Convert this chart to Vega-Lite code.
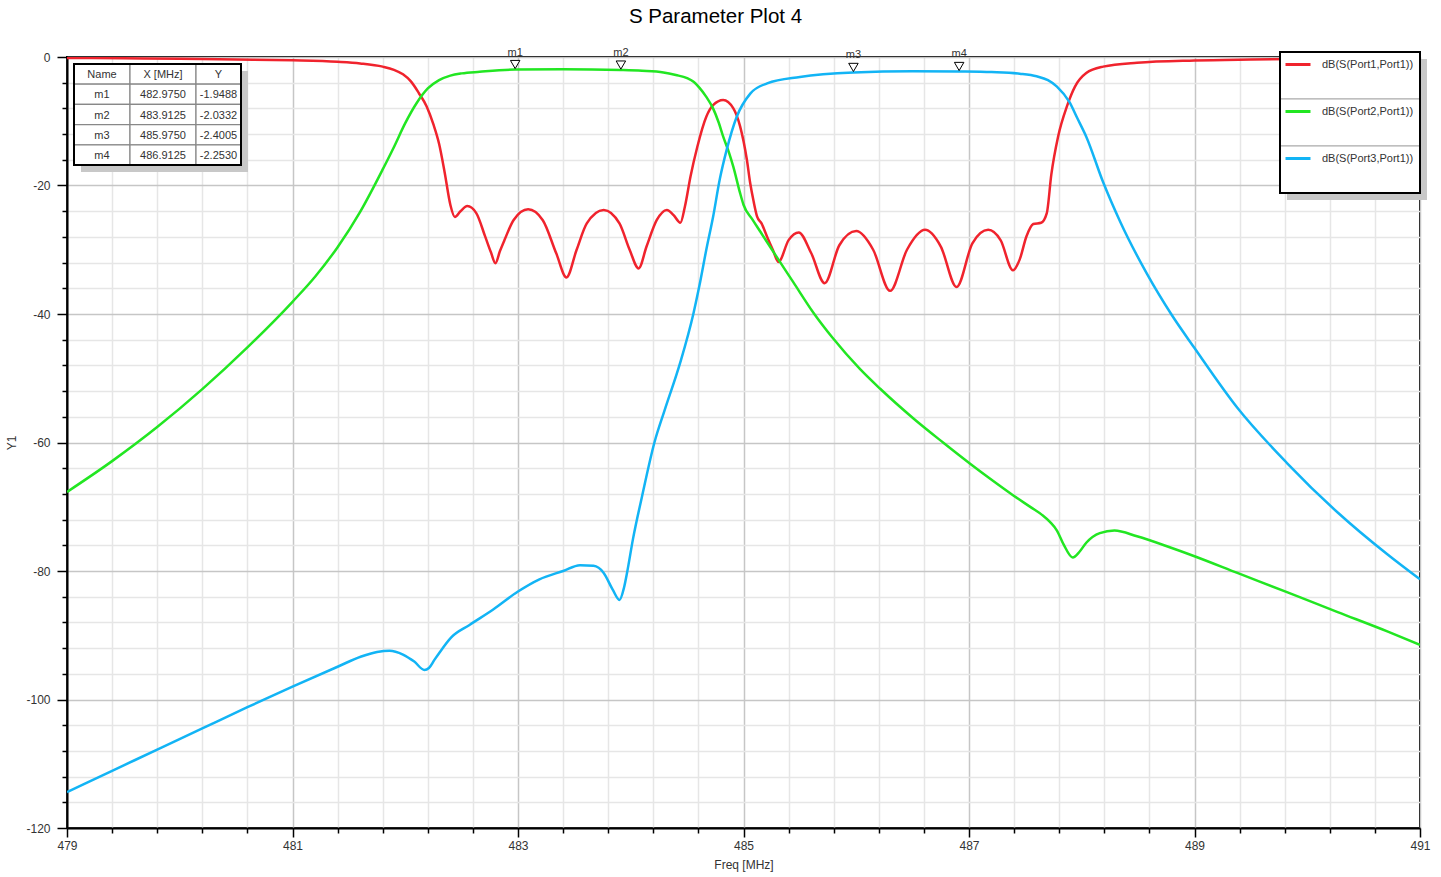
{
"$schema": "https://vega.github.io/schema/vega-lite/v6.json",
"width": 1353, "height": 771,
"autosize": {"type": "none"},
"padding": {"left": 67, "top": 57, "right": 21, "bottom": 49},
"background": "white",
"title": {"text": "S Parameter Plot 4", "font": "Liberation Sans", "fontSize": 20.5, "fontWeight": "normal", "color": "#000", "anchor": "middle", "frame": "group", "offset": 19, "dx": -28},
"config": {"view": {"stroke": "#000", "strokeWidth": 2}, "font": "Liberation Sans"},
"datasets": {
 "curves": [
  {"s":"dB(S(Port1,Port1))","f":479,"db":-0.15},{"s":"dB(S(Port1,Port1))","f":479.5,"db":-0.2},{"s":"dB(S(Port1,Port1))","f":480,"db":-0.28},{"s":"dB(S(Port1,Port1))","f":480.5,"db":-0.38},{"s":"dB(S(Port1,Port1))","f":481,"db":-0.52},{"s":"dB(S(Port1,Port1))","f":481.4,"db":-0.75},{"s":"dB(S(Port1,Port1))","f":481.6,"db":-1.0},{"s":"dB(S(Port1,Port1))","f":481.8,"db":-1.5},{"s":"dB(S(Port1,Port1))","f":481.9,"db":-2.0},{"s":"dB(S(Port1,Port1))","f":481.98,"db":-2.7},{"s":"dB(S(Port1,Port1))","f":482.05,"db":-3.8},{"s":"dB(S(Port1,Port1))","f":482.12,"db":-5.6},{"s":"dB(S(Port1,Port1))","f":482.19,"db":-7.7},{"s":"dB(S(Port1,Port1))","f":482.25,"db":-10.5},{"s":"dB(S(Port1,Port1))","f":482.3,"db":-13.5},{"s":"dB(S(Port1,Port1))","f":482.35,"db":-18.0},{"s":"dB(S(Port1,Port1))","f":482.4,"db":-23.0},{"s":"dB(S(Port1,Port1))","f":482.44,"db":-24.9},{"s":"dB(S(Port1,Port1))","f":482.49,"db":-24.0},{"s":"dB(S(Port1,Port1))","f":482.55,"db":-23.2},{"s":"dB(S(Port1,Port1))","f":482.63,"db":-24.3},{"s":"dB(S(Port1,Port1))","f":482.71,"db":-28.0},{"s":"dB(S(Port1,Port1))","f":482.76,"db":-30.4},{"s":"dB(S(Port1,Port1))","f":482.8,"db":-32.1},{"s":"dB(S(Port1,Port1))","f":482.84,"db":-30.2},{"s":"dB(S(Port1,Port1))","f":482.88,"db":-28.5},{"s":"dB(S(Port1,Port1))","f":482.96,"db":-25.4},{"s":"dB(S(Port1,Port1))","f":483.09,"db":-23.7},{"s":"dB(S(Port1,Port1))","f":483.22,"db":-25.4},{"s":"dB(S(Port1,Port1))","f":483.34,"db":-30.6},{"s":"dB(S(Port1,Port1))","f":483.43,"db":-34.3},{"s":"dB(S(Port1,Port1))","f":483.52,"db":-30.0},{"s":"dB(S(Port1,Port1))","f":483.61,"db":-25.9},{"s":"dB(S(Port1,Port1))","f":483.76,"db":-23.8},{"s":"dB(S(Port1,Port1))","f":483.9,"db":-25.9},{"s":"dB(S(Port1,Port1))","f":483.99,"db":-30.0},{"s":"dB(S(Port1,Port1))","f":484.07,"db":-32.9},{"s":"dB(S(Port1,Port1))","f":484.14,"db":-29.5},{"s":"dB(S(Port1,Port1))","f":484.23,"db":-25.4},{"s":"dB(S(Port1,Port1))","f":484.32,"db":-23.8},{"s":"dB(S(Port1,Port1))","f":484.38,"db":-24.6},{"s":"dB(S(Port1,Port1))","f":484.44,"db":-25.8},{"s":"dB(S(Port1,Port1))","f":484.48,"db":-23.3},{"s":"dB(S(Port1,Port1))","f":484.53,"db":-18.6},{"s":"dB(S(Port1,Port1))","f":484.59,"db":-14.0},{"s":"dB(S(Port1,Port1))","f":484.67,"db":-9.3},{"s":"dB(S(Port1,Port1))","f":484.73,"db":-7.5},{"s":"dB(S(Port1,Port1))","f":484.82,"db":-6.7},{"s":"dB(S(Port1,Port1))","f":484.91,"db":-8.0},{"s":"dB(S(Port1,Port1))","f":484.97,"db":-10.8},{"s":"dB(S(Port1,Port1))","f":485.03,"db":-16.0},{"s":"dB(S(Port1,Port1))","f":485.06,"db":-19.7},{"s":"dB(S(Port1,Port1))","f":485.09,"db":-22.5},{"s":"dB(S(Port1,Port1))","f":485.12,"db":-24.8},{"s":"dB(S(Port1,Port1))","f":485.16,"db":-25.9},{"s":"dB(S(Port1,Port1))","f":485.21,"db":-28.0},{"s":"dB(S(Port1,Port1))","f":485.26,"db":-30.0},{"s":"dB(S(Port1,Port1))","f":485.31,"db":-31.9},{"s":"dB(S(Port1,Port1))","f":485.4,"db":-28.5},{"s":"dB(S(Port1,Port1))","f":485.49,"db":-27.3},{"s":"dB(S(Port1,Port1))","f":485.6,"db":-30.5},{"s":"dB(S(Port1,Port1))","f":485.72,"db":-35.2},{"s":"dB(S(Port1,Port1))","f":485.85,"db":-29.3},{"s":"dB(S(Port1,Port1))","f":486.0,"db":-27.1},{"s":"dB(S(Port1,Port1))","f":486.15,"db":-30.0},{"s":"dB(S(Port1,Port1))","f":486.3,"db":-36.4},{"s":"dB(S(Port1,Port1))","f":486.45,"db":-30.0},{"s":"dB(S(Port1,Port1))","f":486.61,"db":-26.9},{"s":"dB(S(Port1,Port1))","f":486.75,"db":-29.5},{"s":"dB(S(Port1,Port1))","f":486.89,"db":-35.8},{"s":"dB(S(Port1,Port1))","f":487.03,"db":-29.0},{"s":"dB(S(Port1,Port1))","f":487.17,"db":-26.9},{"s":"dB(S(Port1,Port1))","f":487.28,"db":-28.5},{"s":"dB(S(Port1,Port1))","f":487.39,"db":-33.2},{"s":"dB(S(Port1,Port1))","f":487.45,"db":-31.5},{"s":"dB(S(Port1,Port1))","f":487.51,"db":-27.9},{"s":"dB(S(Port1,Port1))","f":487.57,"db":-26.0},{"s":"dB(S(Port1,Port1))","f":487.64,"db":-25.8},{"s":"dB(S(Port1,Port1))","f":487.69,"db":-24.3},{"s":"dB(S(Port1,Port1))","f":487.73,"db":-18.3},{"s":"dB(S(Port1,Port1))","f":487.79,"db":-12.4},{"s":"dB(S(Port1,Port1))","f":487.87,"db":-7.6},{"s":"dB(S(Port1,Port1))","f":487.94,"db":-4.6},{"s":"dB(S(Port1,Port1))","f":488.04,"db":-2.5},{"s":"dB(S(Port1,Port1))","f":488.19,"db":-1.5},{"s":"dB(S(Port1,Port1))","f":488.49,"db":-0.9},{"s":"dB(S(Port1,Port1))","f":489,"db":-0.55},{"s":"dB(S(Port1,Port1))","f":489.5,"db":-0.4},{"s":"dB(S(Port1,Port1))","f":490,"db":-0.3},{"s":"dB(S(Port1,Port1))","f":490.5,"db":-0.25},{"s":"dB(S(Port1,Port1))","f":491,"db":-0.2},
  {"s":"dB(S(Port2,Port1))","f":479,"db":-67.7},{"s":"dB(S(Port2,Port1))","f":479.4,"db":-62.9},{"s":"dB(S(Port2,Port1))","f":479.8,"db":-57.6},{"s":"dB(S(Port2,Port1))","f":480.2,"db":-51.7},{"s":"dB(S(Port2,Port1))","f":480.6,"db":-45.2},{"s":"dB(S(Port2,Port1))","f":481,"db":-38.1},{"s":"dB(S(Port2,Port1))","f":481.2,"db":-34.2},{"s":"dB(S(Port2,Port1))","f":481.4,"db":-29.6},{"s":"dB(S(Port2,Port1))","f":481.6,"db":-24.1},{"s":"dB(S(Port2,Port1))","f":481.8,"db":-17.5},{"s":"dB(S(Port2,Port1))","f":481.9,"db":-14.0},{"s":"dB(S(Port2,Port1))","f":482.0,"db":-10.3},{"s":"dB(S(Port2,Port1))","f":482.1,"db":-7.2},{"s":"dB(S(Port2,Port1))","f":482.2,"db":-4.9},{"s":"dB(S(Port2,Port1))","f":482.3,"db":-3.6},{"s":"dB(S(Port2,Port1))","f":482.4,"db":-2.9},{"s":"dB(S(Port2,Port1))","f":482.5,"db":-2.55},{"s":"dB(S(Port2,Port1))","f":482.66,"db":-2.3},{"s":"dB(S(Port2,Port1))","f":482.975,"db":-1.95},{"s":"dB(S(Port2,Port1))","f":483.4,"db":-1.9},{"s":"dB(S(Port2,Port1))","f":483.9125,"db":-2.03},{"s":"dB(S(Port2,Port1))","f":484.1,"db":-2.15},{"s":"dB(S(Port2,Port1))","f":484.29,"db":-2.4},{"s":"dB(S(Port2,Port1))","f":484.4,"db":-2.8},{"s":"dB(S(Port2,Port1))","f":484.5,"db":-3.3},{"s":"dB(S(Port2,Port1))","f":484.56,"db":-3.9},{"s":"dB(S(Port2,Port1))","f":484.61,"db":-4.8},{"s":"dB(S(Port2,Port1))","f":484.67,"db":-6.2},{"s":"dB(S(Port2,Port1))","f":484.73,"db":-8.0},{"s":"dB(S(Port2,Port1))","f":484.78,"db":-10.2},{"s":"dB(S(Port2,Port1))","f":484.82,"db":-12.4},{"s":"dB(S(Port2,Port1))","f":484.87,"db":-14.8},{"s":"dB(S(Port2,Port1))","f":484.91,"db":-17.1},{"s":"dB(S(Port2,Port1))","f":484.97,"db":-21.2},{"s":"dB(S(Port2,Port1))","f":485.0,"db":-23.0},{"s":"dB(S(Port2,Port1))","f":485.08,"db":-25.3},{"s":"dB(S(Port2,Port1))","f":485.15,"db":-27.2},{"s":"dB(S(Port2,Port1))","f":485.29,"db":-31.0},{"s":"dB(S(Port2,Port1))","f":485.44,"db":-35.0},{"s":"dB(S(Port2,Port1))","f":485.62,"db":-39.8},{"s":"dB(S(Port2,Port1))","f":485.79,"db":-43.7},{"s":"dB(S(Port2,Port1))","f":486.03,"db":-48.5},{"s":"dB(S(Port2,Port1))","f":486.21,"db":-51.6},{"s":"dB(S(Port2,Port1))","f":486.51,"db":-56.3},{"s":"dB(S(Port2,Port1))","f":486.77,"db":-60.0},{"s":"dB(S(Port2,Port1))","f":487.01,"db":-63.3},{"s":"dB(S(Port2,Port1))","f":487.2,"db":-65.8},{"s":"dB(S(Port2,Port1))","f":487.39,"db":-68.2},{"s":"dB(S(Port2,Port1))","f":487.55,"db":-70.1},{"s":"dB(S(Port2,Port1))","f":487.65,"db":-71.3},{"s":"dB(S(Port2,Port1))","f":487.72,"db":-72.4},{"s":"dB(S(Port2,Port1))","f":487.78,"db":-73.7},{"s":"dB(S(Port2,Port1))","f":487.84,"db":-75.9},{"s":"dB(S(Port2,Port1))","f":487.92,"db":-77.9},{"s":"dB(S(Port2,Port1))","f":487.98,"db":-77.0},{"s":"dB(S(Port2,Port1))","f":488.04,"db":-75.6},{"s":"dB(S(Port2,Port1))","f":488.16,"db":-74.1},{"s":"dB(S(Port2,Port1))","f":488.29,"db":-73.7},{"s":"dB(S(Port2,Port1))","f":488.49,"db":-74.6},{"s":"dB(S(Port2,Port1))","f":488.78,"db":-76.3},{"s":"dB(S(Port2,Port1))","f":489,"db":-77.7},{"s":"dB(S(Port2,Port1))","f":489.38,"db":-80.3},{"s":"dB(S(Port2,Port1))","f":489.82,"db":-83.3},{"s":"dB(S(Port2,Port1))","f":490.27,"db":-86.4},{"s":"dB(S(Port2,Port1))","f":490.71,"db":-89.4},{"s":"dB(S(Port2,Port1))","f":491,"db":-91.5},
  {"s":"dB(S(Port3,Port1))","f":479,"db":-114.4},{"s":"dB(S(Port3,Port1))","f":479.4,"db":-111.1},{"s":"dB(S(Port3,Port1))","f":479.8,"db":-107.8},{"s":"dB(S(Port3,Port1))","f":480.2,"db":-104.5},{"s":"dB(S(Port3,Port1))","f":480.6,"db":-101.2},{"s":"dB(S(Port3,Port1))","f":481,"db":-98.0},{"s":"dB(S(Port3,Port1))","f":481.4,"db":-94.9},{"s":"dB(S(Port3,Port1))","f":481.61,"db":-93.3},{"s":"dB(S(Port3,Port1))","f":481.75,"db":-92.6},{"s":"dB(S(Port3,Port1))","f":481.86,"db":-92.4},{"s":"dB(S(Port3,Port1))","f":481.98,"db":-93.0},{"s":"dB(S(Port3,Port1))","f":482.08,"db":-94.1},{"s":"dB(S(Port3,Port1))","f":482.17,"db":-95.4},{"s":"dB(S(Port3,Port1))","f":482.21,"db":-95.1},{"s":"dB(S(Port3,Port1))","f":482.26,"db":-93.8},{"s":"dB(S(Port3,Port1))","f":482.3,"db":-92.8},{"s":"dB(S(Port3,Port1))","f":482.41,"db":-90.3},{"s":"dB(S(Port3,Port1))","f":482.57,"db":-88.4},{"s":"dB(S(Port3,Port1))","f":482.78,"db":-86.0},{"s":"dB(S(Port3,Port1))","f":483,"db":-83.2},{"s":"dB(S(Port3,Port1))","f":483.19,"db":-81.3},{"s":"dB(S(Port3,Port1))","f":483.4,"db":-80.0},{"s":"dB(S(Port3,Port1))","f":483.55,"db":-79.1},{"s":"dB(S(Port3,Port1))","f":483.67,"db":-79.2},{"s":"dB(S(Port3,Port1))","f":483.76,"db":-80.3},{"s":"dB(S(Port3,Port1))","f":483.84,"db":-82.9},{"s":"dB(S(Port3,Port1))","f":483.9,"db":-84.5},{"s":"dB(S(Port3,Port1))","f":483.94,"db":-82.6},{"s":"dB(S(Port3,Port1))","f":483.97,"db":-80.0},{"s":"dB(S(Port3,Port1))","f":484.02,"db":-75.0},{"s":"dB(S(Port3,Port1))","f":484.1,"db":-68.4},{"s":"dB(S(Port3,Port1))","f":484.21,"db":-60.0},{"s":"dB(S(Port3,Port1))","f":484.3,"db":-55.0},{"s":"dB(S(Port3,Port1))","f":484.44,"db":-47.5},{"s":"dB(S(Port3,Port1))","f":484.555,"db":-40.0},{"s":"dB(S(Port3,Port1))","f":484.61,"db":-35.5},{"s":"dB(S(Port3,Port1))","f":484.67,"db":-30.0},{"s":"dB(S(Port3,Port1))","f":484.73,"db":-24.9},{"s":"dB(S(Port3,Port1))","f":484.79,"db":-19.0},{"s":"dB(S(Port3,Port1))","f":484.85,"db":-14.5},{"s":"dB(S(Port3,Port1))","f":484.94,"db":-9.3},{"s":"dB(S(Port3,Port1))","f":485.06,"db":-5.7},{"s":"dB(S(Port3,Port1))","f":485.21,"db":-4.1},{"s":"dB(S(Port3,Port1))","f":485.5,"db":-3.1},{"s":"dB(S(Port3,Port1))","f":485.975,"db":-2.4},{"s":"dB(S(Port3,Port1))","f":486.5,"db":-2.2},{"s":"dB(S(Port3,Port1))","f":486.9125,"db":-2.25},{"s":"dB(S(Port3,Port1))","f":487.2,"db":-2.35},{"s":"dB(S(Port3,Port1))","f":487.45,"db":-2.6},{"s":"dB(S(Port3,Port1))","f":487.6,"db":-3.0},{"s":"dB(S(Port3,Port1))","f":487.7,"db":-3.6},{"s":"dB(S(Port3,Port1))","f":487.78,"db":-4.6},{"s":"dB(S(Port3,Port1))","f":487.89,"db":-7.0},{"s":"dB(S(Port3,Port1))","f":487.96,"db":-9.5},{"s":"dB(S(Port3,Port1))","f":488.04,"db":-12.4},{"s":"dB(S(Port3,Port1))","f":488.19,"db":-19.5},{"s":"dB(S(Port3,Port1))","f":488.34,"db":-25.6},{"s":"dB(S(Port3,Port1))","f":488.58,"db":-33.8},{"s":"dB(S(Port3,Port1))","f":488.8,"db":-40.2},{"s":"dB(S(Port3,Port1))","f":489,"db":-45.3},{"s":"dB(S(Port3,Port1))","f":489.38,"db":-54.6},{"s":"dB(S(Port3,Port1))","f":489.82,"db":-63.2},{"s":"dB(S(Port3,Port1))","f":490.27,"db":-70.9},{"s":"dB(S(Port3,Port1))","f":490.71,"db":-77.4},{"s":"dB(S(Port3,Port1))","f":491,"db":-81.3}
 ],
 "markers": [
  {"marker":"m1","freq":482.975,"val":-1.9488},
  {"marker":"m2","freq":483.9125,"val":-2.0332},
  {"marker":"m3","freq":485.975,"val":-2.4005},
  {"marker":"m4","freq":486.9125,"val":-2.253}
 ],
 "table": [
  {"row":"hdr","name":"Name","xs":"X [MHz]","ys":"Y"},
  {"row":"m1","name":"m1","xs":"482.9750","ys":"-1.9488"},
  {"row":"m2","name":"m2","xs":"483.9125","ys":"-2.0332"},
  {"row":"m3","name":"m3","xs":"485.9750","ys":"-2.4005"},
  {"row":"m4","name":"m4","xs":"486.9125","ys":"-2.2530"}
 ],
 "series": [
  {"series":"dB(S(Port1,Port1))"},
  {"series":"dB(S(Port2,Port1))"},
  {"series":"dB(S(Port3,Port1))"}
 ]
},
"resolve": {"scale": {"x": "independent", "y": "independent"}},
"layer": [
 {
  "resolve": {"axis": {"x": "independent", "y": "independent"}},
  "layer": [
   {
    "data": {"name": "curves"},
    "mark": {"type": "line", "strokeWidth": 2.5, "interpolate": "monotone", "clip": true},
    "encoding": {
     "x": {"field": "f", "type": "quantitative", "scale": {"domain": [479, 491], "nice": false, "zero": false},
      "axis": {
       "orient": "bottom",
       "values": [479, 481, 483, 485, 487, 489, 491],
       "labelExpr": "'' + datum.value",
       "title": "Freq [MHz]", "grid": true, "gridColor": "#c6c6c6", "gridWidth": 1.5,
       "domainColor": "#000", "domainWidth": 2, "tickColor": "#000", "tickWidth": 1.5, "tickSize": 9,
       "labelFont": "Liberation Sans", "labelFontSize": 12, "labelColor": "#333", "labelPadding": 3, "labelFlush": false, "labelOverlap": false, "labelBound": false,
       "titleFont": "Liberation Sans", "titleFontSize": 12, "titleFontWeight": "normal", "titleColor": "#333", "titlePadding": 8
      }},
     "y": {"field": "db", "type": "quantitative", "scale": {"domain": [-120, 0], "nice": false, "zero": false},
      "axis": {
       "orient": "left",
       "values": [-120, -100, -80, -60, -40, -20, 0],
       "labelExpr": "'' + datum.value",
       "title": "Y1", "grid": true, "gridColor": "#c6c6c6", "gridWidth": 1.5,
       "domainColor": "#000", "domainWidth": 2, "tickColor": "#000", "tickWidth": 1.5, "tickSize": 10,
       "labelFont": "Liberation Sans", "labelFontSize": 12, "labelColor": "#333", "labelPadding": 7, "labelOverlap": false, "labelBound": false,
       "titleFont": "Liberation Sans", "titleFontSize": 12, "titleFontWeight": "normal", "titleColor": "#333", "titlePadding": 7
      }},
     "color": {"field": "s", "type": "nominal",
      "scale": {"domain": ["dB(S(Port1,Port1))", "dB(S(Port2,Port1))", "dB(S(Port3,Port1))"], "range": ["#f0232d", "#22e622", "#12b4f5"]},
      "legend": {"orient": "none", "legendX": 1217, "legendY": -6.5, "title": null, "symbolType": "stroke", "symbolSize": 625, "symbolStrokeWidth": 3, "labelFont": "Liberation Sans", "labelFontSize": 11, "labelColor": "#333", "labelOffset": 10, "rowPadding": 27, "padding": 0}
     }
    }
   },
   {
    "data": {"name": "markers"},
    "mark": {"type": "point", "shape": "triangle-down", "filled": true, "fill": "white", "stroke": "#000", "strokeWidth": 1, "size": 90, "yOffset": -5, "opacity": 1},
    "encoding": {
     "x": {"field": "freq", "type": "quantitative", "scale": {"domain": [479, 491], "nice": false, "zero": false},
      "axis": {
       "orient": "bottom",
       "values": [479.4,479.8,480.2,480.6,481.4,481.8,482.2,482.6,483.4,483.8,484.2,484.6,485.4,485.8,486.2,486.6,487.4,487.8,488.2,488.6,489.4,489.8,490.2,490.6],
       "labels": false, "title": null, "domain": false, "grid": true, "gridColor": "#e6e6e6", "gridWidth": 1.5,
       "tickColor": "#000", "tickWidth": 1.5, "tickSize": 5
      }},
     "y": {"field": "val", "type": "quantitative", "scale": {"domain": [-120, 0], "nice": false, "zero": false},
      "axis": {
       "orient": "left",
       "values": [-116,-112,-108,-104,-96,-92,-88,-84,-76,-72,-68,-64,-56,-52,-48,-44,-36,-32,-28,-24,-16,-12,-8,-4],
       "labels": false, "title": null, "domain": false, "grid": true, "gridColor": "#e6e6e6", "gridWidth": 1.5,
       "tickColor": "#000", "tickWidth": 1.5, "tickSize": 5
      }}
    }
   },
   {
    "data": {"name": "markers"},
    "mark": {"type": "text", "font": "Liberation Sans", "fontSize": 11, "color": "#333", "baseline": "middle", "dy": -17},
    "encoding": {
     "x": {"field": "freq", "type": "quantitative", "scale": {"domain": [479, 491], "nice": false, "zero": false}, "axis": null},
     "y": {"field": "val", "type": "quantitative", "scale": {"domain": [-120, 0], "nice": false, "zero": false}, "axis": null},
     "text": {"field": "marker"}
    }
   }
  ]
 },
 {
  "data": {"values": [{"k": "t"}]},
  "mark": {"type": "rect", "fill": "#c8c8c8"},
  "encoding": {
   "x": {"field": "k", "type": "nominal", "scale": {"type": "band", "domain": ["t"], "range": [14, 181], "paddingInner": 0, "paddingOuter": 0}, "axis": null},
   "y": {"field": "k", "type": "nominal", "scale": {"type": "band", "domain": ["t"], "range": [14, 115], "paddingInner": 0, "paddingOuter": 0}, "axis": null}
  }
 },
 {
  "data": {"name": "table"},
  "encoding": {
   "x": {"datum": "Name", "type": "nominal", "scale": {"type": "band", "domain": ["Name"], "range": [7, 63], "paddingInner": 0, "paddingOuter": 0}, "axis": null},
   "y": {"field": "row", "type": "nominal", "scale": {"type": "band", "domain": ["hdr", "m1", "m2", "m3", "m4"], "range": [7, 108], "paddingInner": 0, "paddingOuter": 0}, "axis": null}
  },
  "layer": [
   {"mark": {"type": "rect", "fill": "white", "stroke": "#888", "strokeWidth": 1.2}},
   {"mark": {"type": "text", "font": "Liberation Sans", "fontSize": 11, "color": "#333", "dy": 1}, "encoding": {"text": {"field": "name"}}}
  ]
 },
 {
  "data": {"name": "table"},
  "encoding": {
   "x": {"datum": "X", "type": "nominal", "scale": {"type": "band", "domain": ["X"], "range": [63, 129], "paddingInner": 0, "paddingOuter": 0}, "axis": null},
   "y": {"field": "row", "type": "nominal", "scale": {"type": "band", "domain": ["hdr", "m1", "m2", "m3", "m4"], "range": [7, 108], "paddingInner": 0, "paddingOuter": 0}, "axis": null}
  },
  "layer": [
   {"mark": {"type": "rect", "fill": "white", "stroke": "#888", "strokeWidth": 1.2}},
   {"mark": {"type": "text", "font": "Liberation Sans", "fontSize": 11, "color": "#333", "dy": 1}, "encoding": {"text": {"field": "xs"}}}
  ]
 },
 {
  "data": {"name": "table"},
  "encoding": {
   "x": {"datum": "Y", "type": "nominal", "scale": {"type": "band", "domain": ["Y"], "range": [129, 174], "paddingInner": 0, "paddingOuter": 0}, "axis": null},
   "y": {"field": "row", "type": "nominal", "scale": {"type": "band", "domain": ["hdr", "m1", "m2", "m3", "m4"], "range": [7, 108], "paddingInner": 0, "paddingOuter": 0}, "axis": null}
  },
  "layer": [
   {"mark": {"type": "rect", "fill": "white", "stroke": "#888", "strokeWidth": 1.2}},
   {"mark": {"type": "text", "font": "Liberation Sans", "fontSize": 11, "color": "#333", "dy": 1}, "encoding": {"text": {"field": "ys"}}}
  ]
 },
 {
  "data": {"values": [{"k": "t"}]},
  "mark": {"type": "rect", "fillOpacity": 0, "stroke": "#000", "strokeWidth": 2},
  "encoding": {
   "x": {"field": "k", "type": "nominal", "scale": {"type": "band", "domain": ["t"], "range": [7, 174], "paddingInner": 0, "paddingOuter": 0}, "axis": null},
   "y": {"field": "k", "type": "nominal", "scale": {"type": "band", "domain": ["t"], "range": [7, 108], "paddingInner": 0, "paddingOuter": 0}, "axis": null}
  }
 },
 {
  "data": {"values": [{"k": "l"}]},
  "mark": {"type": "rect", "fill": "#c8c8c8"},
  "encoding": {
   "x": {"field": "k", "type": "nominal", "scale": {"type": "band", "domain": ["l"], "range": [1220, 1360], "paddingInner": 0, "paddingOuter": 0}, "axis": null},
   "y": {"field": "k", "type": "nominal", "scale": {"type": "band", "domain": ["l"], "range": [2, 143], "paddingInner": 0, "paddingOuter": 0}, "axis": null}
  }
 },
 {
  "data": {"name": "series"},
  "mark": {"type": "rect", "fill": "white", "stroke": "#aaa", "strokeWidth": 1.2},
  "encoding": {
   "x": {"datum": "l", "type": "nominal", "scale": {"type": "band", "domain": ["l"], "range": [1213, 1353], "paddingInner": 0, "paddingOuter": 0}, "axis": null},
   "y": {"field": "series", "type": "nominal", "scale": {"type": "band", "domain": ["dB(S(Port1,Port1))", "dB(S(Port2,Port1))", "dB(S(Port3,Port1))"], "range": [-5, 136], "paddingInner": 0, "paddingOuter": 0}, "axis": null}
  }
 },
 {
  "data": {"values": [{"k": "l"}]},
  "mark": {"type": "rect", "fillOpacity": 0, "stroke": "#000", "strokeWidth": 2},
  "encoding": {
   "x": {"field": "k", "type": "nominal", "scale": {"type": "band", "domain": ["l"], "range": [1213, 1353], "paddingInner": 0, "paddingOuter": 0}, "axis": null},
   "y": {"field": "k", "type": "nominal", "scale": {"type": "band", "domain": ["l"], "range": [-5, 136], "paddingInner": 0, "paddingOuter": 0}, "axis": null}
  }
 }
]
}
